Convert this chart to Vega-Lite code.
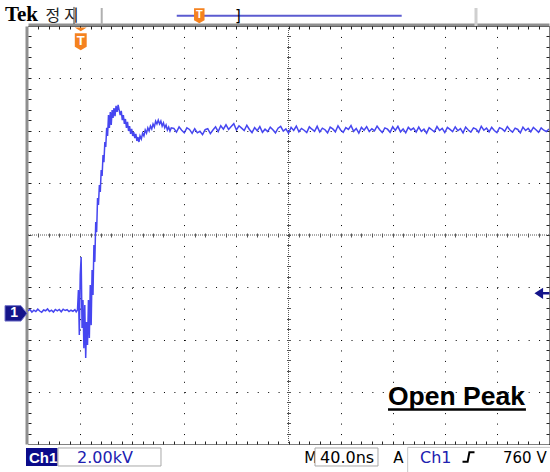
{
"$schema":"https://vega.github.io/schema/vega-lite/v6.json",
"width":521,"height":418,
"autosize":{"type":"none"},
"padding":{"left":28,"top":26,"right":1,"bottom":28},
"background":"#ffffff",
"config":{"view":{"stroke":null},"axis":{"labels":false,"ticks":false,"domain":false,"grid":false}},
"datasets":{"wave":[
{"t":-40,"v":0.10},{"t":-38.5,"v":0.15},{"t":-37,"v":0.05},{"t":-35.5,"v":0.12},{"t":-34,"v":0.07},{"t":-32.5,"v":0.16},{"t":-31,"v":0.09},{"t":-29.5,"v":0.04},{"t":-28,"v":0.13},{"t":-26.5,"v":0.10},{"t":-25,"v":0.17},{"t":-23.5,"v":0.07},{"t":-22,"v":0.12},{"t":-20.5,"v":0.05},{"t":-19,"v":0.15},{"t":-17.5,"v":0.10},{"t":-16,"v":0.15},{"t":-14.5,"v":0.06},{"t":-13,"v":0.16},{"t":-11.5,"v":0.11},{"t":-10,"v":0.14},{"t":-8.5,"v":0.07},{"t":-7,"v":0.12},{"t":-5.5,"v":0.08},{"t":-4,"v":0.14},{"t":-3,"v":0.06},
{"t":-2,"v":0.13},{"t":-1.3,"v":0.89},{"t":-0.6,"v":-0.83},{"t":0.1,"v":1.47},{"t":0.8,"v":2.16},{"t":1.5,"v":-0.56},{"t":2.2,"v":0.51},{"t":2.9,"v":-1.33},{"t":3.6,"v":0.32},{"t":4.3,"v":-1.71},{"t":5.0,"v":-0.33},{"t":5.7,"v":-1.21},{"t":6.4,"v":0.51},{"t":7.1,"v":-0.94},{"t":7.8,"v":1.09},{"t":8.5,"v":-0.45},{"t":9.2,"v":1.66},{"t":9.9,"v":0.70},{"t":10.6,"v":2.62},{"t":11.3,"v":1.97},{"t":12.0,"v":3.50},{"t":12.7,"v":3.11},{"t":13.4,"v":4.42},{"t":14.1,"v":4.15},{"t":14.8,"v":4.91},{"t":15.5,"v":4.65},{"t":16.2,"v":5.49},{"t":16.9,"v":5.26},{"t":17.6,"v":6.06},{"t":18.3,"v":5.79},{"t":19.0,"v":6.56},{"t":19.7,"v":6.37},{"t":20.4,"v":7.10},{"t":21.1,"v":6.79},{"t":21.8,"v":7.59},{"t":22.5,"v":7.10},{"t":23.2,"v":7.71},{"t":23.9,"v":7.21},{"t":24.6,"v":7.78},{"t":25.3,"v":7.48},{"t":26.0,"v":7.86},{"t":26.8,"v":7.55},{"t":27.6,"v":7.94},{"t":28.4,"v":7.71},{"t":29.2,"v":7.98},{"t":30.0,"v":7.78},{"t":30.8,"v":7.59},{"t":31.6,"v":7.75},{"t":32.4,"v":7.40},{"t":33.2,"v":7.59},{"t":34.0,"v":7.25},{"t":34.8,"v":7.44},{"t":35.6,"v":7.10},{"t":36.4,"v":7.33},{"t":37.2,"v":6.98},{"t":38.0,"v":7.17},{"t":38.8,"v":6.87},{"t":39.6,"v":7.06},{"t":40.4,"v":6.79},{"t":41.2,"v":6.94},{"t":42.0,"v":6.71},{"t":42.8,"v":6.87},{"t":43.6,"v":6.60},{"t":44.4,"v":6.75},{"t":45.2,"v":6.56},{"t":46.0,"v":6.79},{"t":47.0,"v":6.67},{"t":48.0,"v":6.90},{"t":49.0,"v":6.79},{"t":50.0,"v":7.02},{"t":51.0,"v":6.90},{"t":52.0,"v":7.10},{"t":53.0,"v":6.98},{"t":54.0,"v":7.17},{"t":55.0,"v":7.06},{"t":56.0,"v":7.25},{"t":57.0,"v":7.13},{"t":58.0,"v":7.36},{"t":59.0,"v":7.25},{"t":60.0,"v":7.40},{"t":61.0,"v":7.25},{"t":62.0,"v":7.36},{"t":63.0,"v":7.17},{"t":64.0,"v":7.29},{"t":65.0,"v":7.10},{"t":66.0,"v":7.21},{"t":67.0,"v":7.02},{"t":68.0,"v":7.13},{"t":69.0,"v":6.98},{"t":70.0,"v":7.10},
{"t":72,"v":7.08},{"t":74,"v":6.94},{"t":76,"v":7.14},{"t":78,"v":7.01},{"t":80,"v":6.91},{"t":82,"v":7.10},{"t":84,"v":7.04},{"t":86,"v":6.89},{"t":88,"v":7.07},{"t":90,"v":6.91},{"t":92,"v":6.97},{"t":94,"v":6.84},{"t":96,"v":7.03},{"t":98,"v":7.07},{"t":100,"v":6.88},{"t":102,"v":7.02},{"t":104,"v":7.14},{"t":106,"v":6.96},{"t":108,"v":7.18},{"t":110,"v":7.05},{"t":112,"v":7.22},{"t":114,"v":7.04},{"t":116,"v":7.15},{"t":118,"v":7.26},{"t":120,"v":7.02},{"t":122,"v":7.18},{"t":124,"v":7.09},{"t":126,"v":7.00},{"t":128,"v":7.20},{"t":130,"v":7.04},{"t":132,"v":6.92},{"t":134,"v":7.11},{"t":136,"v":6.99},{"t":138,"v":7.15},{"t":140,"v":6.93},{"t":142,"v":7.05},{"t":144,"v":6.96},{"t":146,"v":7.13},{"t":148,"v":7.03},{"t":150,"v":6.91},{"t":152,"v":7.09},{"t":154,"v":7.16},{"t":156,"v":6.98},{"t":158,"v":7.06},{"t":160,"v":6.90},{"t":162,"v":7.12},{"t":164,"v":7.00},{"t":166,"v":7.17},{"t":168,"v":6.95},{"t":170,"v":7.08},{"t":172,"v":7.01},{"t":174,"v":6.92},{"t":176,"v":7.14},{"t":178,"v":7.05},{"t":180,"v":6.97},{"t":182,"v":7.16},{"t":184,"v":6.94},{"t":186,"v":7.09},{"t":188,"v":7.03},{"t":190,"v":6.91},{"t":192,"v":7.13},{"t":194,"v":7.06},{"t":196,"v":6.95},{"t":198,"v":7.18},{"t":200,"v":7.02},{"t":202,"v":6.93},{"t":204,"v":7.11},{"t":206,"v":7.04},{"t":208,"v":7.19},{"t":210,"v":6.97},{"t":212,"v":7.08},{"t":214,"v":6.90},{"t":216,"v":7.12},{"t":218,"v":7.01},{"t":220,"v":7.15},{"t":222,"v":6.96},{"t":224,"v":7.07},{"t":226,"v":6.99},{"t":228,"v":7.17},{"t":230,"v":7.03},{"t":232,"v":6.92},{"t":234,"v":7.10},{"t":236,"v":7.05},{"t":238,"v":6.93},{"t":240,"v":7.14},{"t":242,"v":7.00},{"t":244,"v":7.16},{"t":246,"v":6.95},{"t":248,"v":7.06},{"t":250,"v":6.91},{"t":252,"v":7.12},{"t":254,"v":7.02},{"t":256,"v":7.09},{"t":258,"v":6.94},{"t":260,"v":7.13},{"t":262,"v":6.97},{"t":264,"v":7.05},{"t":266,"v":6.90},{"t":268,"v":7.11},{"t":270,"v":7.03},{"t":272,"v":6.95},{"t":274,"v":7.15},{"t":276,"v":7.00},{"t":278,"v":7.08},{"t":280,"v":6.92},{"t":282,"v":7.12},{"t":284,"v":7.04},{"t":286,"v":6.96},{"t":288,"v":7.14},{"t":290,"v":6.99},{"t":292,"v":7.07},{"t":294,"v":6.91},{"t":296,"v":7.13},{"t":298,"v":7.02},{"t":300,"v":6.94},{"t":302,"v":7.10},{"t":304,"v":7.05},{"t":306,"v":6.93},{"t":308,"v":7.16},{"t":310,"v":7.01},{"t":312,"v":7.09},{"t":314,"v":6.95},{"t":316,"v":7.12},{"t":318,"v":7.00},{"t":320,"v":6.92},{"t":322,"v":7.11},{"t":324,"v":7.06},{"t":326,"v":6.97},{"t":328,"v":7.15},{"t":330,"v":7.02},{"t":332,"v":6.94},{"t":334,"v":7.09},{"t":336,"v":7.04},{"t":338,"v":6.91},{"t":340,"v":7.13},{"t":342,"v":7.00},{"t":344,"v":7.08},{"t":346,"v":6.95},{"t":348,"v":7.12},{"t":350,"v":7.03},{"t":352,"v":6.93},{"t":354,"v":7.10},{"t":356,"v":7.01},{"t":358,"v":6.96},{"t":360,"v":7.06}
]},
"data":{"values":[{"k":1}]},
"resolve":{"axis":{"x":"independent","y":"independent"}},
"layer":[
{"mark":{"type":"point","opacity":0},
 "encoding":{
  "x":{"datum":160,"type":"quantitative","scale":{"domain":[-40,360],"nice":false,"zero":false},"axis":{"orient":"bottom","values":[-32,-24,-16,-8,0,8,16,24,32,40,48,56,64,72,80,88,96,104,112,120,128,136,144,152,160,168,176,184,192,200,208,216,224,232,240,248,256,264,272,280,288,296,304,312,320,328,336,344,352],"ticks":true,"tickSize":-3,"tickColor":"#222","tickWidth":1,"domain":true,"domainColor":"#000","domainDash":[1,1],"domainWidth":1,"labels":false,"grid":false,"title":null}},
  "y":{"datum":3,"type":"quantitative","scale":{"domain":[-5,11],"nice":false,"zero":false},"axis":{"orient":"right","values":[-4.6,-4.2,-3.8,-3.4,-3,-2.6,-2.2,-1.8,-1.4,-1,-0.6,-0.2,0.2,0.6,1,1.4,1.8,2.2,2.6,3,3.4,3.8,4.2,4.6,5,5.4,5.8,6.2,6.6,7,7.4,7.8,8.2,8.6,9,9.4,9.8,10.2,10.6],"ticks":true,"tickSize":-3,"tickColor":"#222","tickWidth":1,"domain":true,"domainColor":"#000","domainDash":[1,1],"domainWidth":1,"labels":false,"grid":false,"title":null}}
 }},
{"mark":{"type":"point","opacity":0},
 "encoding":{
  "x":{"datum":160,"type":"quantitative","axis":{"orient":"top","offset":1.5,"domain":true,"domainColor":"#8f8f8f","domainWidth":3,"ticks":false,"labels":false,"grid":false,"title":null}},
  "y":{"datum":3,"type":"quantitative","axis":{"orient":"left","offset":1.5,"domain":true,"domainColor":"#8f8f8f","domainWidth":3,"ticks":false,"labels":false,"grid":false,"title":null}}
 }},
{"mark":{"type":"point","opacity":0},
 "encoding":{
  "x":{"datum":160,"type":"quantitative","axis":{"orient":"top","values":[-32,-24,-16,-8,0,8,16,24,32,40,48,56,64,72,80,88,96,104,112,120,128,136,144,152,160,168,176,184,192,200,208,216,224,232,240,248,256,264,272,280,288,296,304,312,320,328,336,344,352],"ticks":true,"tickSize":-3,"tickColor":"#222","tickWidth":1,"domain":true,"domainColor":"#000","domainDash":[1,1],"domainWidth":1,"labels":false,"grid":false,"title":null}},
  "y":{"datum":3,"type":"quantitative","axis":{"orient":"left","values":[-4.6,-4.2,-3.8,-3.4,-3,-2.6,-2.2,-1.8,-1.4,-1,-0.6,-0.2,0.2,0.6,1,1.4,1.8,2.2,2.6,3,3.4,3.8,4.2,4.6,5,5.4,5.8,6.2,6.6,7,7.4,7.8,8.2,8.6,9,9.4,9.8,10.2,10.6],"ticks":true,"tickSize":-3,"tickColor":"#222","tickWidth":1,"domain":false,"labels":false,"grid":false,"title":null}}
 }},
{"mark":{"type":"point","opacity":0},
 "encoding":{
  "x":{"datum":160,"type":"quantitative","axis":{"orient":"bottom","offset":-211,"values":[-32,-24,-16,-8,0,8,16,24,32,40,48,56,64,72,80,88,96,104,112,120,128,136,144,152,160,168,176,184,192,200,208,216,224,232,240,248,256,264,272,280,288,296,304,312,320,328,336,344,352],"ticks":true,"tickSize":4,"tickColor":"#555","tickWidth":1,"domain":false,"labels":false,"grid":false,"title":null}},
  "y":{"datum":3,"type":"quantitative","axis":{"orient":"left","offset":-262.5,"values":[-4.6,-4.2,-3.8,-3.4,-3,-2.6,-2.2,-1.8,-1.4,-1,-0.6,-0.2,0.2,0.6,1,1.4,1.8,2.2,2.6,3,3.4,3.8,4.2,4.6,5,5.4,5.8,6.2,6.6,7,7.4,7.8,8.2,8.6,9,9.4,9.8,10.2,10.6],"ticks":true,"tickSize":4,"tickColor":"#555","tickWidth":1,"domain":false,"labels":false,"grid":false,"title":null}}
 }},
{"mark":{"type":"rule","color":"#555","strokeWidth":1,"strokeDash":[1,1]},
 "encoding":{"y":{"datum":3,"type":"quantitative","axis":null}}},
{"mark":{"type":"rule","color":"#555","strokeWidth":1,"strokeDash":[1,1]},
 "encoding":{"x":{"datum":160,"type":"quantitative","axis":null}}},
{"data":{"name":"wave"},
 "mark":{"type":"line","color":"#4646f0","strokeWidth":1.5,"clip":true},
 "encoding":{
  "x":{"field":"t","type":"quantitative","axis":{"orient":"bottom","values":[0,40,80,120,200,240,280,320],"grid":true,"gridDash":[1,9.45],"gridColor":"#000","gridWidth":1,"gridOpacity":1,"ticks":false,"labels":false,"domain":false,"title":null}},
  "y":{"field":"v","type":"quantitative","axis":{"orient":"left","values":[-3,-1,1,5,7,9],"grid":true,"gridDash":[1,9.42],"gridColor":"#000","gridWidth":1,"gridOpacity":1,"ticks":false,"labels":false,"domain":false,"title":null}}
 }},
{"mark":{"type":"text","text":"Tek","font":"Liberation Serif","fontWeight":"bold","fontSize":21,"align":"left","baseline":"alphabetic","color":"#000"},
 "encoding":{"x":{"datum":-57.7,"type":"quantitative","axis":null},"y":{"datum":11.19,"type":"quantitative","axis":null}}},
{"mark":{"type":"text","text":"정 지","font":"Noto Sans CJK KR","fontSize":16,"align":"left","baseline":"alphabetic","color":"#222"},
 "encoding":{"x":{"datum":-26.5,"type":"quantitative","axis":null},"y":{"datum":11.19,"type":"quantitative","axis":null}}},
{"mark":{"type":"rule","color":"#333","strokeWidth":1},
 "encoding":{"x":{"datum":-4.68,"type":"quantitative","axis":null},"y":{"datum":11.73,"type":"quantitative","axis":null},"y2":{"datum":11.08}}},
{"mark":{"type":"rule","color":"#b0b0b0","strokeWidth":2},
 "encoding":{"x":{"datum":16.6,"type":"quantitative","axis":null},"y":{"datum":11.69,"type":"quantitative","axis":null},"y2":{"datum":11.06}}},
{"mark":{"type":"rule","color":"#5b5bd0","strokeWidth":2},
 "encoding":{"x":{"datum":74.2,"type":"quantitative","axis":null},"x2":{"datum":246.9},"y":{"datum":11.39,"type":"quantitative","axis":null}}},
{"mark":{"type":"rule","color":"#cfcfcf","strokeWidth":3},
 "encoding":{"x":{"datum":303.95,"type":"quantitative","axis":null},"y":{"datum":11.69,"type":"quantitative","axis":null},"y2":{"datum":11.0}}},
{"mark":{"type":"text","text":"]","font":"DejaVu Sans","fontSize":15,"align":"center","baseline":"alphabetic","color":"#000"},
 "encoding":{"x":{"datum":121.2,"type":"quantitative","axis":null},"y":{"datum":11.2,"type":"quantitative","axis":null}}},
{"mark":{"type":"point","shape":"M-0.7,-1 L0.7,-1 L0.7,0.6 L0,1 L-0.7,0.6 Z","size":225,"filled":true,"color":"#f5821f","opacity":1,"strokeWidth":0},
 "encoding":{"x":{"datum":91.5,"type":"quantitative","axis":null},"y":{"datum":11.39,"type":"quantitative","axis":null}}},
{"mark":{"type":"text","text":"T","font":"Liberation Sans","fontWeight":"bold","fontSize":11,"align":"center","baseline":"middle","color":"#ffffff"},
 "encoding":{"x":{"datum":91.5,"type":"quantitative","axis":null},"y":{"datum":11.41,"type":"quantitative","axis":null}}},
{"mark":{"type":"point","shape":"M-1,-0.3 L1,-0.3 L0,0.3 Z","size":144,"filled":true,"color":"#f5821f","opacity":1,"strokeWidth":0},
 "encoding":{"x":{"datum":0.5,"type":"quantitative","axis":null},"y":{"datum":10.87,"type":"quantitative","axis":null}}},
{"mark":{"type":"point","shape":"M-0.7,-1 L0.7,-1 L0.7,0.6 L0,1 L-0.7,0.6 Z","size":289,"filled":true,"color":"#f5821f","opacity":1,"strokeWidth":0},
 "encoding":{"x":{"datum":0.5,"type":"quantitative","axis":null},"y":{"datum":10.40,"type":"quantitative","axis":null}}},
{"mark":{"type":"text","text":"T","font":"Liberation Sans","fontWeight":"bold","fontSize":13,"align":"center","baseline":"middle","color":"#ffffff"},
 "encoding":{"x":{"datum":0.5,"type":"quantitative","axis":null},"y":{"datum":10.44,"type":"quantitative","axis":null}}},
{"mark":{"type":"point","shape":"M-1,-0.7 L0.45,-0.7 L1,0 L0.45,0.7 L-1,0.7 Z","size":484,"filled":true,"fill":"#14148a","stroke":"#7070c8","strokeWidth":1,"opacity":1},
 "encoding":{"x":{"datum":-49.2,"type":"quantitative","axis":null},"y":{"datum":0.0,"type":"quantitative","axis":null}}},
{"mark":{"type":"text","text":"1","font":"Liberation Sans","fontWeight":"bold","fontSize":14,"align":"center","baseline":"middle","color":"#ffffff"},
 "encoding":{"x":{"datum":-50.7,"type":"quantitative","axis":null},"y":{"datum":0.0,"type":"quantitative","axis":null}}},
{"mark":{"type":"point","shape":"M-1,0 L0.15,-0.75 L0.15,-0.18 L1,-0.18 L1,0.18 L0.15,0.18 L0.15,0.75 Z","size":225,"filled":true,"color":"#14148a","opacity":1,"strokeWidth":0},
 "encoding":{"x":{"datum":354.6,"type":"quantitative","axis":null},"y":{"datum":0.77,"type":"quantitative","axis":null}}},
{"mark":{"type":"rect","fill":"#0b0b8a"},
 "encoding":{"x":{"datum":-41.54,"type":"quantitative","axis":null},"x2":{"datum":-17.35},"y":{"datum":-5.153,"type":"quantitative","axis":null},"y2":{"datum":-5.842}}},
{"mark":{"type":"text","text":"Ch1","font":"Liberation Sans","fontWeight":"bold","fontSize":15,"align":"left","baseline":"alphabetic","color":"#ffffff"},
 "encoding":{"x":{"datum":-39.2,"type":"quantitative","axis":null},"y":{"datum":-5.727,"type":"quantitative","axis":null}}},
{"mark":{"type":"rect","fill":"#ffffff","stroke":"#a8a8a8","strokeWidth":1},
 "encoding":{"x":{"datum":-16.97,"type":"quantitative","axis":null},"x2":{"datum":62.11},"y":{"datum":-5.153,"type":"quantitative","axis":null},"y2":{"datum":-5.842}}},
{"mark":{"type":"text","text":"2.00kV","font":"DejaVu Sans","fontSize":16,"align":"left","baseline":"alphabetic","color":"#2020b0"},
 "encoding":{"x":{"datum":-2.38,"type":"quantitative","axis":null},"y":{"datum":-5.727,"type":"quantitative","axis":null}}},
{"mark":{"type":"text","text":"M","font":"DejaVu Sans","fontSize":15,"align":"left","baseline":"alphabetic","color":"#000"},
 "encoding":{"x":{"datum":172.0,"type":"quantitative","axis":null},"y":{"datum":-5.727,"type":"quantitative","axis":null}}},
{"mark":{"type":"rect","fill":"#ffffff","stroke":"#a8a8a8","strokeWidth":1},
 "encoding":{"x":{"datum":180.35,"type":"quantitative","axis":null},"x2":{"datum":228.71},"y":{"datum":-5.153,"type":"quantitative","axis":null},"y2":{"datum":-5.842}}},
{"mark":{"type":"text","text":"40.0ns","font":"DejaVu Sans","fontSize":16,"align":"left","baseline":"alphabetic","color":"#000"},
 "encoding":{"x":{"datum":184.2,"type":"quantitative","axis":null},"y":{"datum":-5.727,"type":"quantitative","axis":null}}},
{"mark":{"type":"text","text":"A","font":"DejaVu Sans","fontSize":15,"align":"left","baseline":"alphabetic","color":"#000"},
 "encoding":{"x":{"datum":240.45,"type":"quantitative","axis":null},"y":{"datum":-5.727,"type":"quantitative","axis":null}}},
{"mark":{"type":"rect","fill":"#ffffff","stroke":"#c8c8c8","strokeWidth":1},
 "encoding":{"x":{"datum":251.5,"type":"quantitative","axis":null},"x2":{"datum":365},"y":{"datum":-5.13,"type":"quantitative","axis":null},"y2":{"datum":-6.2}}},
{"mark":{"type":"text","text":"Ch1","font":"DejaVu Sans","fontSize":16,"align":"left","baseline":"alphabetic","color":"#2020b0"},
 "encoding":{"x":{"datum":260.96,"type":"quantitative","axis":null},"y":{"datum":-5.727,"type":"quantitative","axis":null}}},
{"mark":{"type":"point","shape":"M-1,0.8 L-0.15,0.8 L0.15,-0.8 L1,-0.8","size":144,"filled":false,"stroke":"#000","strokeWidth":2,"opacity":1},
 "encoding":{"x":{"datum":298.2,"type":"quantitative","axis":null},"y":{"datum":-5.498,"type":"quantitative","axis":null}}},
{"mark":{"type":"text","text":"760 V","font":"DejaVu Sans","fontSize":15,"align":"left","baseline":"alphabetic","color":"#000"},
 "encoding":{"x":{"datum":324.7,"type":"quantitative","axis":null},"y":{"datum":-5.727,"type":"quantitative","axis":null}}},
{"mark":{"type":"text","text":"Open Peak","font":"Liberation Sans","fontWeight":"bold","fontSize":26.5,"align":"left","baseline":"alphabetic","color":"#000"},
 "encoding":{"x":{"datum":236.4,"type":"quantitative","axis":null},"y":{"datum":-3.507,"type":"quantitative","axis":null}}},
{"mark":{"type":"rule","color":"#000","strokeWidth":2.5},
 "encoding":{"x":{"datum":236.4,"type":"quantitative","axis":null},"x2":{"datum":342.3},"y":{"datum":-3.68,"type":"quantitative","axis":null}}}
]
}
